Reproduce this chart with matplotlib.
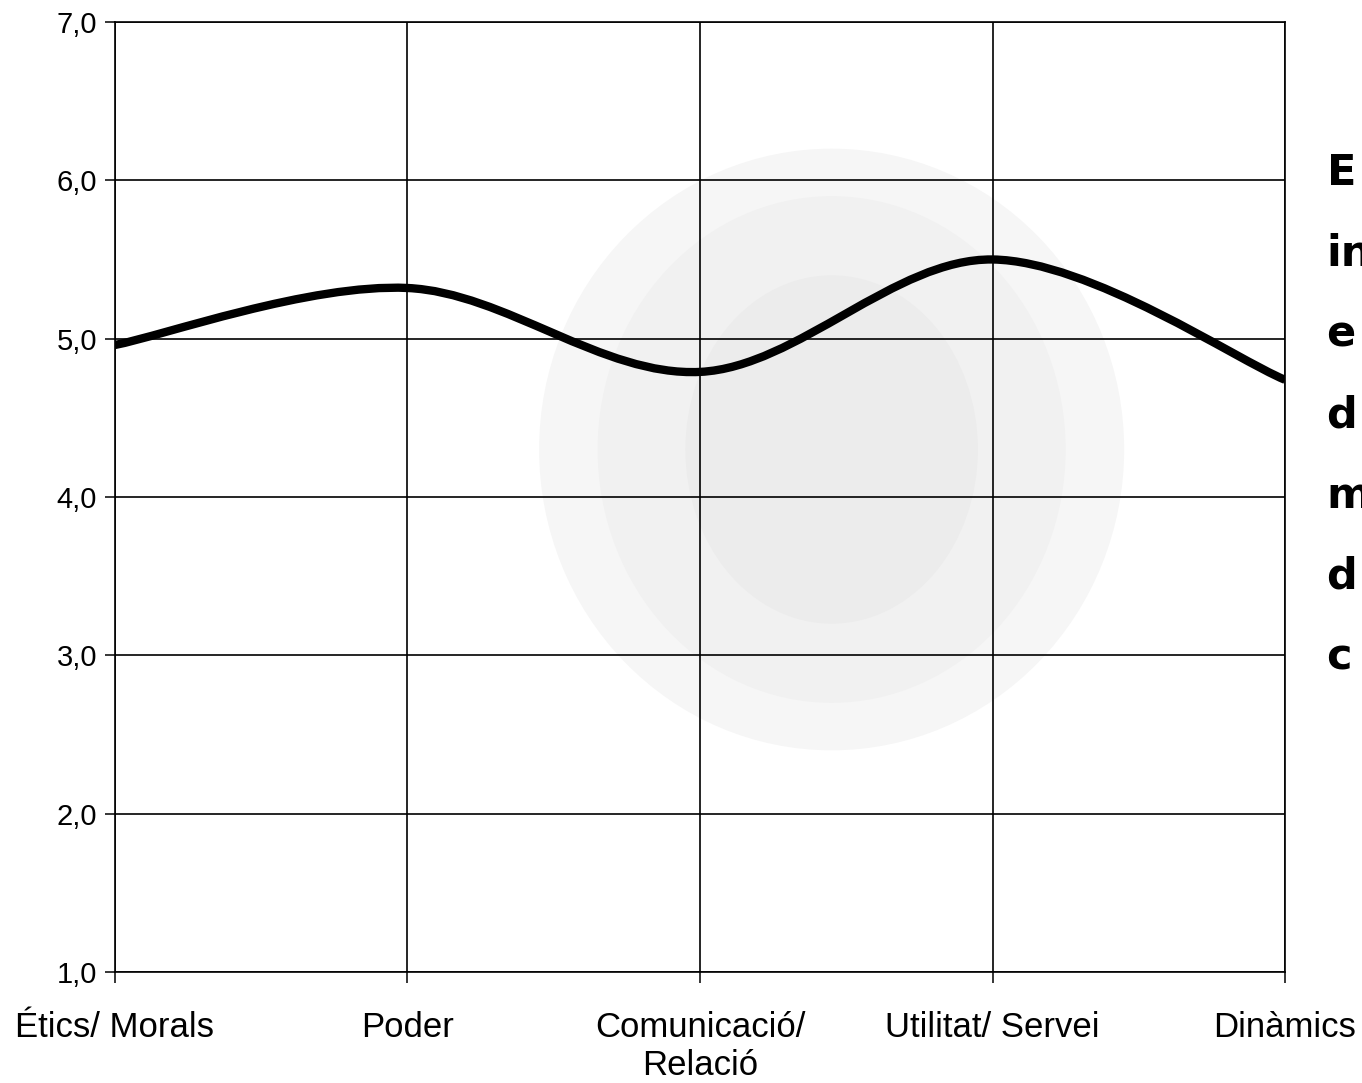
import matplotlib
matplotlib.use("Agg")
import matplotlib.pyplot as plt
from matplotlib.path import Path
from matplotlib.patches import PathPatch, Ellipse

# category labels and values
categories = ["Étics/ Morals", "Poder", "Comunicació/\nRelació", "Utilitat/ Servei", "Dinàmics"]
values = [4.96, 5.32, 4.79, 5.50, 4.74]
y_ticks = [1.0, 2.0, 3.0, 4.0, 5.0, 6.0, 7.0]
y_tick_labels = ["1,0", "2,0", "3,0", "4,0", "5,0", "6,0", "7,0"]
side_text = ["E", "in", "e", "d", "m", "d", "c"]


def smooth_path(xs, ys):
    #excel-like smoothed line: bezier segments with catmull-rom handles
    n = len(xs)
    verts = [(xs[0], ys[0])]
    codes = [Path.MOVETO]
    for i in range(n - 1):
        i0 = max(i - 1, 0)
        i3 = min(i + 2, n - 1)
        c1 = (xs[i] + (xs[i + 1] - xs[i0]) / 6.0, ys[i] + (ys[i + 1] - ys[i0]) / 6.0)
        c2 = (xs[i + 1] - (xs[i3] - xs[i]) / 6.0, ys[i + 1] - (ys[i3] - ys[i]) / 6.0)
        verts += [c1, c2, (xs[i + 1], ys[i + 1])]
        codes += [Path.CURVE4] * 3
    return Path(verts, codes)


def main():
    fig = plt.figure(figsize=(13.62, 10.83), dpi=100)
    ax = fig.add_axes([0.0844, 0.1025, 0.8591, 0.8772])

    x = list(range(len(categories)))

    #faint grey scan smudge behind the middle of the chart
    for (w, h, c) in [(2.0, 3.8, "#f6f6f6"), (1.6, 3.2, "#f1f1f1"), (1.0, 2.2, "#ececec")]:
        ax.add_patch(Ellipse((2.45, 4.3), w, h, facecolor=c,
                             edgecolor="none", zorder=0))

    ax.add_patch(PathPatch(smooth_path(x, values), facecolor="none",
                           edgecolor="black", lw=6, capstyle="butt", zorder=3))

    ax.set_xlim(0, len(categories) - 1)
    ax.set_ylim(1, 7)
    ax.set_yticks(y_ticks)
    ax.set_yticklabels(y_tick_labels, fontsize=21, family="Liberation Sans")
    ax.set_xticks(x)
    ax.set_xticklabels(categories, fontsize=25, family="Liberation Sans")
    ax.tick_params(axis="x", length=8, width=1.1, direction="out", pad=20)
    ax.tick_params(axis="y", length=7, width=1.1, direction="out", pad=6)
    ax.grid(True, color="black", lw=1.2)
    for s in ax.spines.values():
        s.set_linewidth(1.2)
        s.set_color("black")
    ax.set_axisbelow(True)

    #side text, cut off by the right edge of the page
    y0 = 0.84
    for k, t in enumerate(side_text):
        fig.text(0.974, y0 - k * 0.0745, t, fontsize=31, fontweight="bold",
                 family="DejaVu Sans", va="center", ha="left")

    fig.savefig("out.png", dpi=100, facecolor="white")


if __name__ == '__main__':
    main()
